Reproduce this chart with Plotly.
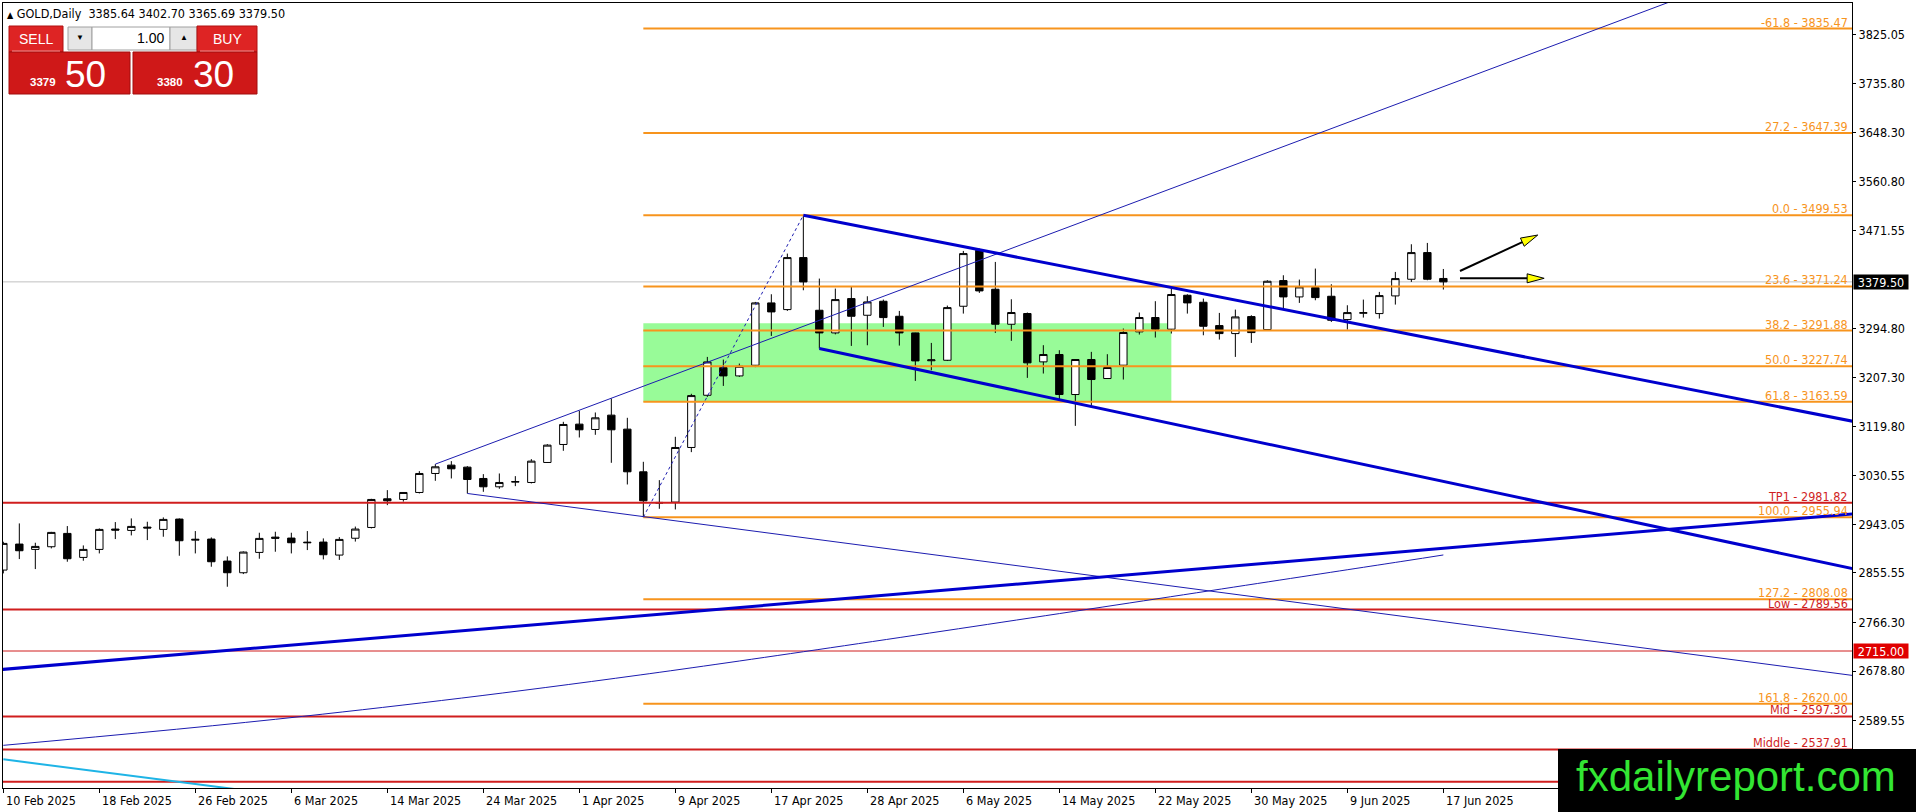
import math
import pandas as pd
import plotly.graph_objects as go

# ---------------- data ----------------
dates = [d for d in pd.bdate_range("2025-02-10", "2025-06-17") if d != pd.Timestamp("2025-04-18")]

opens = [2860.7, 2907.5, 2897.9, 2902.7, 2926.7, 2883.5, 2897.9, 2934.5, 2932.1, 2938.0,
         2933.9, 2952.5, 2914.5, 2916.5, 2876.9, 2855.9, 2892.5, 2920.0, 2918.3, 2911.0,
         2911.1, 2887.7, 2918.0, 2937.4, 2989.0, 2987.8, 3000.4, 3034.6, 3049.6, 3046.0,
         3025.6, 3010.6, 3019.0, 3018.4, 3054.4, 3086.8, 3123.4, 3113.8, 3139.6, 3114.4,
         3037.6, 2982.5, 2983.0, 3081.4, 3175.4, 3225.2, 3210.2, 3229.4, 3341.6, 3329.6,
         3423.2, 3328.4, 3287.6, 3349.4, 3319.4, 3344.6, 3317.6, 3287.6, 3237.5, 3238.4,
         3335.6, 3436.4, 3366.2, 3303.2, 3322.5, 3235.5, 3248.7, 3176.7, 3239.7, 3205.5,
         3229.5, 3289.5, 3315.3, 3294.3, 3355.4, 3342.8, 3300.8, 3286.4, 3317.0, 3293.6,
         3381.8, 3352.4, 3369.2, 3353.6, 3311.6, 3323.0, 3322.4, 3354.2, 3384.2, 3432.2,
         3385.64]
highs = [2911.7, 2944.7, 2909.9, 2929.5, 2939.9, 2905.1, 2935.7, 2947.1, 2953.7, 2947.7,
         2955.5, 2953.7, 2930.9, 2919.5, 2885.3, 2894.3, 2927.9, 2929.7, 2927.9, 2930.9,
         2917.7, 2920.0, 2939.0, 2989.0, 3004.6, 3001.0, 3038.8, 3051.4, 3056.8, 3047.8,
         3033.4, 3034.6, 3029.8, 3060.4, 3087.4, 3127.6, 3147.4, 3144.4, 3169.6, 3134.8,
         3055.6, 3022.6, 3100.6, 3178.0, 3244.4, 3239.6, 3232.4, 3343.4, 3357.2, 3430.4,
         3499.53, 3385.4, 3367.4, 3371.6, 3353.6, 3347.6, 3327.2, 3288.0, 3269.6, 3336.8,
         3435.2, 3439.4, 3415.4, 3348.2, 3324.3, 3265.5, 3256.5, 3240.0, 3253.5, 3249.3,
         3295.5, 3324.3, 3344.7, 3367.5, 3357.2, 3349.4, 3323.6, 3329.6, 3319.4, 3382.4,
         3391.4, 3383.6, 3403.4, 3375.2, 3337.4, 3347.6, 3361.4, 3397.4, 3447.2, 3449.6,
         3402.70]
lows = [2854.7, 2880.5, 2862.5, 2899.7, 2875.7, 2877.5, 2890.7, 2916.5, 2923.1, 2914.7,
        2920.7, 2886.5, 2890.7, 2866.7, 2830.7, 2853.5, 2881.1, 2893.7, 2890.7, 2896.7,
        2879.9, 2879.0, 2912.0, 2935.6, 2977.6, 2984.0, 2998.6, 3021.4, 3025.6, 2998.6,
        3001.6, 3007.0, 3011.8, 3016.6, 3054.0, 3075.4, 3099.4, 3104.2, 3053.8, 3014.8,
        2955.94, 2971.0, 2969.8, 3073.0, 3172.4, 3192.2, 3208.4, 3226.0, 3282.2, 3327.2,
        3364.4, 3259.4, 3285.0, 3264.2, 3265.4, 3298.4, 3264.8, 3201.2, 3220.4, 3237.0,
        3322.4, 3359.6, 3287.6, 3273.3, 3206.7, 3214.5, 3167.7, 3120.3, 3155.7, 3205.0,
        3203.7, 3284.7, 3279.3, 3286.5, 3322.4, 3283.4, 3275.6, 3244.4, 3269.6, 3293.6,
        3331.4, 3341.6, 3346.4, 3307.4, 3293.6, 3315.2, 3313.4, 3338.6, 3379.4, 3382.4,
        3365.69]
closes = [2908.7, 2895.5, 2903.3, 2928.5, 2881.1, 2897.9, 2933.9, 2932.7, 2939.3, 2936.5,
          2951.9, 2913.5, 2916.0, 2875.7, 2855.9, 2893.1, 2917.7, 2918.0, 2909.9, 2910.0,
          2888.3, 2915.9, 2934.5, 2987.8, 2985.4, 3000.4, 3034.6, 3046.6, 3043.0, 3023.8,
          3010.6, 3018.4, 3020.0, 3056.8, 3085.6, 3122.8, 3113.2, 3134.8, 3113.2, 3037.6,
          2985.4, 2981.5, 3081.4, 3174.8, 3235.4, 3210.2, 3227.6, 3341.6, 3325.4, 3423.2,
          3379.4, 3287.6, 3347.6, 3317.6, 3343.4, 3315.2, 3287.6, 3237.2, 3239.0, 3333.2,
          3430.4, 3363.2, 3303.2, 3324.3, 3233.7, 3248.7, 3176.7, 3239.7, 3203.7, 3225.3,
          3288.3, 3315.3, 3294.3, 3356.7, 3341.6, 3299.6, 3286.4, 3316.4, 3288.2, 3380.6,
          3352.4, 3370.4, 3351.2, 3310.4, 3324.2, 3324.0, 3354.8, 3385.4, 3432.2, 3384.2,
          3379.50]

symbol_name = "GOLD,Daily"
bid_price = 3379.50
ask_price = 3380.30
lot_size = "1.00"

# Fibonacci levels (anchored at 7 Apr low and 22 Apr high)
fib_anchor_low = ("2025-04-07", 2955.94)
fib_anchor_high = ("2025-04-22", 3499.53)
fib_names = ["-61.8", "27.2", "0.0", "23.6", "38.2", "50.0", "61.8", "100.0", "127.2", "161.8"]
fib_prices = [3835.47, 3647.39, 3499.53, 3371.24, 3291.88, 3227.74, 3163.59, 2955.94, 2808.08, 2620.00]

# Red horizontal levels
red_names = ["TP1", "Low", "", "Mid", "Middle", ""]
red_prices = [2981.82, 2789.56, 2715.00, 2597.30, 2537.91, 2479.70]
tagged_level = 2715.00

# Zone rectangle
zone_start = "2025-04-07"
zone_end = "2025-05-23"
zone_low = 3163.59
zone_high = 3305.0

# Trend lines: (bar index, price) anchors
tl_channel_up_thin = [(27, 3051.4), (104, 3881.9)]
tl_down_thin = [(29, 2998.6), (115.5, 2671.3)]
tl_channel_upper = [(50, 3499.53), (115.5, 3129.0)]
tl_channel_lower = [(51, 3259.4), (115.5, 2863.9)]
tl_long_up = [(-0.2, 2681.5), (115.5, 2961.6)]
tl_curve_x = [0, 18.7, 39.8, 87.3, 90]
tl_curve_y = [2545.2, 2597.3, 2671.9, 2875.8, 2887.9]
tl_cyan = [(0, 2520.0), (15, 2464.5)]

# Arrows (tail, tip)
arrow_up = [(91.04, 3399.1), (95.9, 3463.8)]
arrow_flat = [(91.04, 3385.9), (96.3, 3385.9)]

y_tick_vals = [3825.05, 3735.80, 3648.30, 3560.80, 3471.55, 3294.80, 3207.30, 3119.80,
               3030.55, 2943.05, 2855.55, 2766.30, 2678.80, 2589.55]

# ---------------- layout geometry ----------------
W, H = 1916, 812
ML, MR, MT, MB = 3, 64, 3, 24
PW, PH = W - ML - MR, H - MT - MB
XR = [-0.02, 115.54]
YR = [2468.4, 3881.5]
PX_PER_BAR = PW / (XR[1] - XR[0])
PRICE_PER_PX = (YR[1] - YR[0]) / PH

idx = {d.strftime("%Y-%m-%d"): i for i, d in enumerate(dates)}
xs = list(range(len(dates)))


def px(X):
    return (X - ML) / PW


def py(Y):
    return 1 - (Y - MT) / PH


ORANGE = "#F7941D"
RED = "#D01E1E"
BLUE = "#0000CD"
BLUE_THIN = "#1c1cb0"
FONT = "'DejaVu Sans Condensed', 'Liberation Sans', Arial, sans-serif"

fig = go.Figure()
annotations = []
shapes = []

# zone rectangle (background, below the candles)
zx0, zx1 = idx[zone_start], idx[zone_end]
shapes.append(dict(type="rect", xref="x", yref="y", x0=zx0, x1=zx1, y0=zone_low, y1=zone_high,
                   fillcolor="#98FB98", line=dict(width=0), layer="below"))
# bid line (below candles)
shapes.append(dict(type="line", xref="paper", yref="y", x0=0, x1=1, y0=bid_price, y1=bid_price,
                   line=dict(color="#C0C0C0", width=1), layer="below"))

# candles
fig.add_trace(go.Candlestick(
    x=xs, open=opens, high=highs, low=lows, close=closes,
    increasing=dict(line=dict(color="black", width=1), fillcolor="white"),
    decreasing=dict(line=dict(color="black", width=1), fillcolor="black"),
    whiskerwidth=0, hoverinfo="skip"))


def hline(x0, price, color, width):
    fig.add_trace(go.Scatter(x=[x0, XR[1]], y=[price, price], mode="lines",
                             line=dict(color=color, width=width), hoverinfo="skip"))


# fib levels
fib_x0 = idx[fib_anchor_low[0]]
for name, p in zip(fib_names, fib_prices):
    hline(fib_x0, p, ORANGE, 2)

# red levels
for name, p in zip(red_names, red_prices):
    hline(XR[0], p, RED, 1 if p == tagged_level else 2)


def seg(pts, color, width, dash="solid"):
    fig.add_trace(go.Scatter(x=[p[0] for p in pts], y=[p[1] for p in pts], mode="lines",
                             line=dict(color=color, width=width, dash=dash), hoverinfo="skip"))


# rays extended to the right edge
def ray(pts, color, width):
    (x0, y0), (x1, y1) = pts
    slope = (y1 - y0) / (x1 - x0)
    xe = XR[1] + 1
    seg([(x0, y0), (xe, y0 + slope * (xe - x0))], color, width)


ray(tl_channel_up_thin, BLUE_THIN, 1)
ray(tl_down_thin, BLUE_THIN, 1)
ray(tl_channel_upper, BLUE, 3)
ray(tl_channel_lower, BLUE, 3)
ray(tl_long_up, BLUE, 3)
fig.add_trace(go.Scatter(x=tl_curve_x, y=tl_curve_y, mode="lines",
                         line=dict(color=BLUE_THIN, width=1, shape="spline"), hoverinfo="skip"))
seg(tl_cyan, "#1EB4E6", 2)
seg([(idx[fib_anchor_low[0]], fib_anchor_low[1]), (idx[fib_anchor_high[0]], fib_anchor_high[1])],
    BLUE_THIN, 1, "dot")


# arrows
def arrow(pts):
    (tx, ty), (hx, hy) = pts
    dxp = (hx - tx) * PX_PER_BAR
    dyp = -(hy - ty) / PRICE_PER_PX
    L = math.hypot(dxp, dyp)
    ux, uy = dxp / L, dyp / L
    nx, ny = -uy, ux
    head_len, half_w = 17, 4.5
    bx, by = -ux * head_len, -uy * head_len

    def to_data(ox, oy):
        return hx + ox / PX_PER_BAR, hy - oy * PRICE_PER_PX

    base = to_data(bx, by)
    seg([(tx, ty), base], "black", 2)
    v1 = to_data(bx + nx * half_w, by + ny * half_w)
    v2 = to_data(bx - nx * half_w, by - ny * half_w)
    fig.add_trace(go.Scatter(x=[hx, v1[0], v2[0], hx], y=[hy, v1[1], v2[1], hy],
                             fill="toself", fillcolor="#FFFF00", mode="lines",
                             line=dict(color="black", width=1), hoverinfo="skip"))


arrow(arrow_up)
arrow(arrow_flat)

# fib labels
for name, p in zip(fib_names, fib_prices):
    annotations.append(dict(x=px(1850), xref="paper", y=p, yref="y", xanchor="right",
                            yanchor="bottom", yshift=-3, showarrow=False,
                            text=f"{name} - {p:.2f}", font=dict(color=ORANGE, size=12.5, family=FONT)))
for name, p in zip(red_names, red_prices):
    if name:
        annotations.append(dict(x=px(1850), xref="paper", y=p, yref="y", xanchor="right",
                                yanchor="bottom", yshift=-3, showarrow=False,
                                text=f"{name} - {p:.2f}", font=dict(color=RED, size=12.5, family=FONT)))

# price tags on the axis
annotations.append(dict(x=1, xref="paper", y=bid_price, yref="y", xanchor="left", xshift=1,
                        yanchor="middle", showarrow=False, text=f"{bid_price:.2f}",
                        bgcolor="black", width=54, height=14, borderpad=0,
                        font=dict(color="white", size=12.5, family=FONT)))
annotations.append(dict(x=1, xref="paper", y=tagged_level, yref="y", xanchor="left", xshift=1,
                        yanchor="middle", showarrow=False, text=f"{tagged_level:.2f}",
                        bgcolor="#E00000", width=54, height=14, borderpad=0,
                        font=dict(color="white", size=12.5, family=FONT)))

# date labels
for i in range(0, len(dates), 6):
    d = dates[i]
    annotations.append(dict(x=i, xref="x", y=0, yref="paper", xanchor="left", yanchor="middle",
                            yshift=-12, xshift=1, showarrow=False,
                            text=f"{d.day} {d.strftime('%b %Y')}",
                            font=dict(color="black", size=12.5, family=FONT)))

# header
o, h, l, c = opens[-1], highs[-1], lows[-1], closes[-1]
annotations.append(dict(x=px(5), xref="paper", y=py(14), yref="paper", xanchor="left", yanchor="middle",
                        showarrow=False,
                        text=f"<span style='font-size:9px'>▲</span> {symbol_name}  {o:.2f} {h:.2f} {l:.2f} {c:.2f}",
                        font=dict(color="black", size=12.5, family=FONT)))


# trading panel
def rect(x0, y0, x1, y1, fill, lc=None, lw=0):
    shapes.append(dict(type="rect", xref="paper", yref="paper", x0=px(x0), x1=px(x1),
                       y0=py(y1), y1=py(y0), fillcolor=fill, layer="above",
                       line=dict(width=lw, color=lc or fill)))


def label(X, Y, text, size, color="white", anchor="center", bold=False, fam="'Liberation Sans', Arial, sans-serif"):
    annotations.append(dict(x=px(X), xref="paper", y=py(Y), yref="paper", xanchor=anchor,
                            yanchor="middle", showarrow=False,
                            text=f"<b>{text}</b>" if bold else text,
                            font=dict(color=color, size=size, family=fam)))


rect(9, 26, 63, 52, "#DE2424", "#B01010", 1)
rect(68, 27, 92, 50, "#E6E6E6", "#A0A0A0", 1)
rect(92, 27, 170, 50, "white", "#A0A0A0", 1)
rect(170, 27, 197, 50, "#E6E6E6", "#A0A0A0", 1)
rect(197, 26, 257, 52, "#DE2424", "#B01010", 1)
rect(9, 52, 130, 94, "#CF1818", "#A00C0C", 1)
rect(133, 52, 257, 94, "#CF1818", "#A00C0C", 1)
shapes.append(dict(type="line", xref="paper", yref="paper", x0=px(12), x1=px(60), y0=py(51), y1=py(51),
                   line=dict(color="#F09090", width=1), layer="above"))
shapes.append(dict(type="line", xref="paper", yref="paper", x0=px(200), x1=px(254), y0=py(51), y1=py(51),
                   line=dict(color="#F09090", width=1), layer="above"))

bid_str = f"{bid_price:.2f}"
ask_str = f"{ask_price:.2f}"
label(36, 39, "SELL", 14)
label(80, 38, "▼", 8, "black")
label(166, 38, lot_size, 14, "black", "right")
label(184, 38, "▲", 8, "black")
label(227, 39, "BUY", 14)
label(28, 82, bid_str.split(".")[0], 11.5, anchor="left", bold=True)
label(63, 75, bid_str.split(".")[1], 37, anchor="left")
label(155, 82, ask_str.split(".")[0], 11.5, anchor="left", bold=True)
label(191, 75, ask_str.split(".")[1], 37, anchor="left")

# watermark
rect(1558, 749, 1916, 812, "black")
label(1736, 776, "fxdailyreport.com", 42, "#33E633", fam="'Liberation Sans', Arial, sans-serif")

fig.update_layout(
    width=W, height=H, margin=dict(l=ML, r=MR, t=MT, b=MB, pad=0),
    paper_bgcolor="white", plot_bgcolor="white", showlegend=False, hovermode=False,
    boxgap=0.34, annotations=annotations, shapes=shapes,
    xaxis=dict(range=XR, showgrid=False, zeroline=False, showline=True, mirror=True,
               linecolor="black", linewidth=1, ticks="outside", ticklen=4, tickcolor="black",
               tickvals=list(range(0, len(dates), 6)), showticklabels=False,
               rangeslider=dict(visible=False), fixedrange=True),
    yaxis=dict(range=YR, side="right", showgrid=False, zeroline=False, showline=True, mirror=True,
               linecolor="black", linewidth=1, ticks="outside", ticklen=3, tickcolor="black",
               tickvals=y_tick_vals, ticktext=[f"{v:.2f}" for v in y_tick_vals],
               tickfont=dict(color="black", size=12.5, family=FONT), fixedrange=True),
)

fig.write_html("out.html", config={"displayModeBar": False},
               post_script="document.body.style.margin='0px';document.body.style.overflow='hidden';")
